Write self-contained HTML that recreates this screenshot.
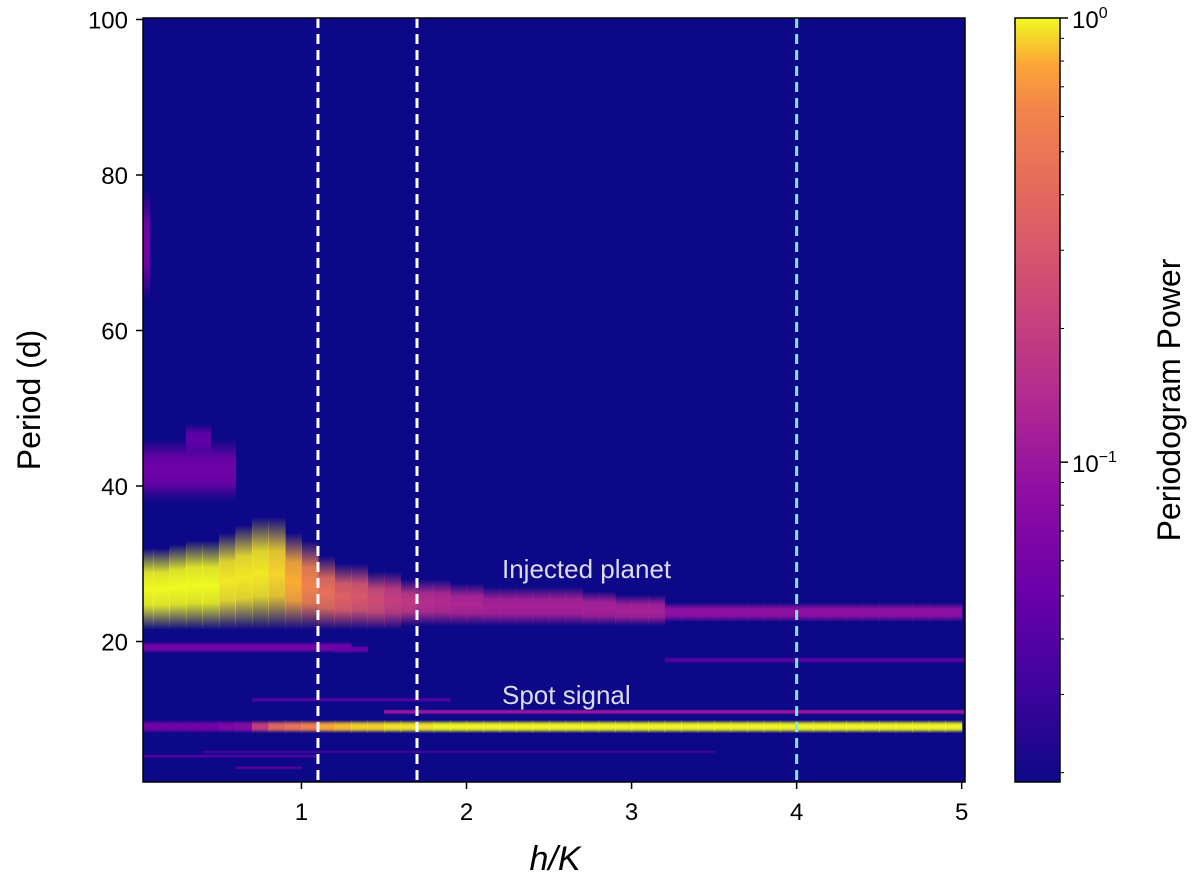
<!DOCTYPE html>
<html><head><meta charset="utf-8">
<style>
body{margin:0;background:#fff;}
svg{display:block;font-family:"Liberation Sans",sans-serif;}
</style></head>
<body>
<svg id="chart" width="1200" height="886" viewBox="0 0 1200 886">
<defs>
<linearGradient id="cbar" x1="0" y1="1" x2="0" y2="0">
<stop offset="0" stop-color="#0d0887"/><stop offset="0.13" stop-color="#41049d"/>
<stop offset="0.25" stop-color="#6a00a8"/><stop offset="0.38" stop-color="#8f0da4"/>
<stop offset="0.5" stop-color="#b12a90"/><stop offset="0.63" stop-color="#cc4778"/>
<stop offset="0.75" stop-color="#e16462"/><stop offset="0.88" stop-color="#f2844b"/>
<stop offset="0.94" stop-color="#fca636"/><stop offset="1" stop-color="#f0f921"/>
</linearGradient>
<clipPath id="plotclip"><rect x="143" y="18" width="822" height="764"/></clipPath>
</defs>
<rect x="143" y="18" width="822" height="764" fill="#0d0887"/>
<g id="heat" clip-path="url(#plotclip)"></g>
<g id="axes"></g>
</svg>
<script>
const xCenters=[];for(let i=0;i<50;i++)xCenters.push(0.05+i*0.1);
const planetPower=[1,1,1,1,1,0.95,0.95,0.95,0.9,0.8,0.6,0.45,0.35,0.3,0.25,0.2,0.18,0.15,0.14,0.13,0.13,0.12,0.12,0.12,0.12,0.12,0.12,0.12,0.12,0.12,0.12,0.12,0.09,0.09,0.09,0.09,0.09,0.09,0.09,0.09,0.09,0.09,0.09,0.09,0.09,0.09,0.09,0.09,0.09,0.09];
const planetLo=[21.5,21.5,21.5,21.5,21.5,21.5,21.5,21.5,21.5,21.5,21.5,21.5,21.5,21.5,21.5,21.5,22,22,22,22,22,22,22,22,22,22,22,22,22,22,22,22,22.5,22.5,22.5,22.5,22.5,22.5,22.5,22.5,22.5,22.5,22.5,22.5,22.5,22.5,22.5,22.5,22.5,22.5];
const planetHi=[32,32,32.5,33,33,34,35,36,36,34,33,31,30,30,29,29,28,28,28,27.5,27.5,27,27,27,27,27,27,26.5,26.5,26,26,26,25,25,25,25,25,25,25,25,25,25,25,25,25,25,25,25,25,25];
const spotPower=[0.06,0.06,0.06,0.06,0.06,0.07,0.08,0.2,0.4,0.5,0.6,0.8,0.85,0.9,0.9,0.95,0.95,0.95,1,1,1,1,1,1,1,1,1,1,1,1,1,1,1,1,1,1,1,1,1,1,1,1,1,1,1,1,1,1,1,1];
// minor features: [xStart,xEnd,pLo,pHi,power]
const minorBands=[[0.04,0.6,38,46,0.055],[0.3,0.45,44,48,0.045],[0.04,0.08,64,78,0.06],[0.04,1.3,18.5,20,0.06],[1.2,1.4,18.5,19.5,0.05],[3.2,5.02,17.2,18,0.04],[1.5,5.02,10.6,11.3,0.1],[0.7,1.9,12.2,12.8,0.04],[0.04,1.1,5,5.5,0.04],[0.4,3.5,5.6,6,0.035],[0.6,1.0,3.5,4,0.04]];
const xTicks=[1,2,3,4,5];
const yTicks=[20,40,60,80,100];
const vlines=[[1.1,"#ffffff"],[1.7,"#ffffff"],[4.0,"#7fe8e0"]];

const X=x=>143+(x-0.04)*165.06;
const Y=p=>797-(p)*7.775;
const VMIN=-1.72;
const stops=[[0,[13,8,135]],[0.13,[65,4,157]],[0.25,[106,0,168]],[0.38,[143,13,164]],[0.5,[177,42,144]],[0.63,[204,71,120]],[0.75,[225,100,98]],[0.88,[242,132,75]],[0.94,[252,166,54]],[1,[240,249,33]]];
function col(v){let t=(Math.log10(v)-VMIN)/(-VMIN);t=Math.max(0,Math.min(1,t));
for(let i=1;i<stops.length;i++){if(t<=stops[i][0]){const a=stops[i-1],b=stops[i],f=(t-a[0])/(b[0]-a[0]);
return 'rgb('+a[1].map((c,k)=>Math.round(c+(b[1][k]-c)*f)).join(',')+')';}}return 'rgb(240,249,33)';}
const NS="http://www.w3.org/2000/svg";
const svg=document.getElementById('chart');const defs=svg.querySelector('defs');
const heat=document.getElementById('heat');const axes=document.getElementById('axes');
let gid=0;
function band(x0,x1,lo,hi,v,name){
 const id='g'+(gid++);const g=document.createElementNS(NS,'linearGradient');
 g.setAttribute('id',id);g.setAttribute('x1','0');g.setAttribute('y1','0');g.setAttribute('x2','0');g.setAttribute('y2','1');
 const c=col(v);
 [[0,0],[0.3,0.9],[0.5,1],[0.7,0.9],[1,0]].forEach(s=>{const st=document.createElementNS(NS,'stop');st.setAttribute('offset',s[0]);st.setAttribute('stop-color',c);st.setAttribute('stop-opacity',s[1]);g.appendChild(st);});
 defs.appendChild(g);
 const r=document.createElementNS(NS,'rect');
 r.setAttribute('x',X(x0));r.setAttribute('width',X(x1)-X(x0)+0.6);
 r.setAttribute('y',Y(hi));r.setAttribute('height',Y(lo)-Y(hi));r.setAttribute('fill','url(#'+id+')');
 
 
 heat.appendChild(r);}
minorBands.forEach(b=>band(b[0],b[1],b[2],b[3],b[4],'minor-band'));
xCenters.forEach((x,i)=>{band(x-0.05,x+0.05,planetLo[i],planetHi[i],planetPower[i],'planet-cell');});
xCenters.forEach((x,i)=>{band(x-0.05,x+0.05,8.2,9.9,spotPower[i],'spot-cell');});
function line(x1,y1,x2,y2,stroke,w,dash,name){const l=document.createElementNS(NS,'line');
 l.setAttribute('x1',x1);l.setAttribute('y1',y1);l.setAttribute('x2',x2);l.setAttribute('y2',y2);
 l.setAttribute('stroke',stroke);l.setAttribute('stroke-width',w);if(dash)l.setAttribute('stroke-dasharray',dash);
 
 
 axes.appendChild(l);return l;}
function text(x,y,s,size,anchor,name,extra){const t=document.createElementNS(NS,'text');
 t.setAttribute('x',x);t.setAttribute('y',y);t.setAttribute('font-size',size);t.setAttribute('text-anchor',anchor);
 if(extra)for(const k in extra)t.setAttribute(k,extra[k]);t.textContent=s;
 
 
 axes.appendChild(t);return t;}
vlines.forEach(v=>line(X(v[0]),18,X(v[0]),782,v[1],3,'10,6','marker-line'));
text(502,578,'Injected planet',26,'start','injected-planet-label',{fill:'#dcdcf0'});
text(502,704,'Spot signal',26,'start','spot-signal-label',{fill:'#dcdcf0'});
const frame=document.createElementNS(NS,'rect');frame.setAttribute('x',143);frame.setAttribute('y',18);frame.setAttribute('width',822);frame.setAttribute('height',764);frame.setAttribute('fill','none');frame.setAttribute('stroke','#000');frame.setAttribute('stroke-width',1.5);


axes.appendChild(frame);
xTicks.forEach(t=>{line(X(t),782,X(t),789,'#000',1.5,null,'x-tick');text(X(t),820,String(t),24,'middle','x-tick-label');});
yTicks.forEach(t=>{line(136,Y(t),143,Y(t),'#000',1.5,null,'y-tick');text(128,Y(t)+9,String(t),24,'end','y-tick-label');});
text(555,870,'h/K',34,'middle','x-axis-title',{'font-style':'italic'});
text(40,400,'Period (d)',32,'middle','y-axis-title',{transform:'rotate(-90 40 400)'});
// colorbar
const cb=document.createElementNS(NS,'rect');cb.setAttribute('x',1015);cb.setAttribute('y',18);cb.setAttribute('width',45);cb.setAttribute('height',764);cb.setAttribute('fill','url(#cbar)');cb.setAttribute('stroke','#000');cb.setAttribute('stroke-width',1.5);


axes.appendChild(cb);
const CB=v=>18+(0-Math.log10(v))*(764/(-VMIN));
[1,0.1].forEach(v=>line(1060,CB(v),1068,CB(v),'#000',1.5,null,'colorbar-major-tick'));
[0.9,0.8,0.7,0.6,0.5,0.4,0.3,0.2,0.09,0.08,0.07,0.06,0.05,0.04,0.03,0.02].forEach(v=>{if(CB(v)<782)line(1060,CB(v),1064,CB(v),'#000',1,null,'colorbar-minor-tick');});
const t0=text(1072,CB(1)+10,'10',24,'start','colorbar-label-top');const s0=document.createElementNS(NS,'tspan');s0.setAttribute('dy','-10');s0.setAttribute('font-size','16');s0.textContent='0';t0.appendChild(s0);
const t1=text(1072,CB(0.1)+10,'10',24,'start','colorbar-label-mid');const s1=document.createElementNS(NS,'tspan');s1.setAttribute('dy','-10');s1.setAttribute('font-size','16');s1.textContent='−1';t1.appendChild(s1);
text(1180,400,'Periodogram Power',32,'middle','colorbar-title',{transform:'rotate(-90 1180 400)'});
</script>
</body></html>
